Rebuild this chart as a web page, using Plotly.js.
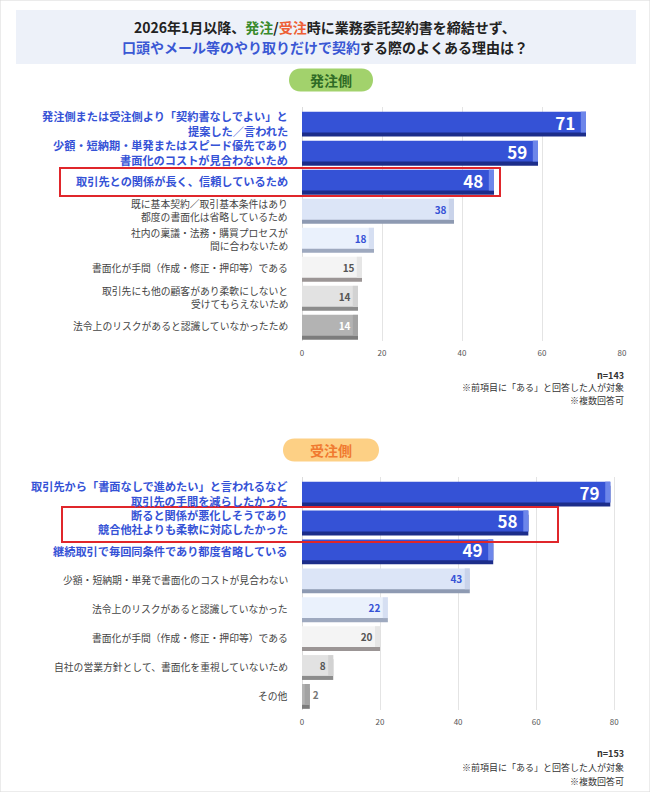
<!DOCTYPE html>
<html>
<head>
<meta charset="utf-8">
<script src="https://cdn.plot.ly/plotly-3.0.1.min.js"></script>
<style>
  body { margin: 0; background: #fff; }
  #chart { width: 650px; height: 792px; }
</style>
</head>
<body>
<div id="chart"></div>
<script>
// 発注側
var orderLabels = [
  "発注側または受注側より「契約書なしでよい」と<br>提案した／言われた",
  "少額・短納期・単発またはスピード優先であり<br>書面化のコストが見合わないため",
  "取引先との関係が長く、信頼しているため",
  "既に基本契約／取引基本条件はあり<br>都度の書面化は省略しているため",
  "社内の稟議・法務・購買プロセスが<br>間に合わないため",
  "書面化が手間（作成・修正・押印等）である",
  "取引先にも他の顧客があり柔軟にしないと<br>受けてもらえないため",
  "法令上のリスクがあると認識していなかったため"
];
var orderValues = [71, 59, 48, 38, 18, 15, 14, 14];

// 受注側
var receiveLabels = [
  "取引先から「書面なしで進めたい」と言われるなど<br>取引先の手間を減らしたかった",
  "断ると関係が悪化しそうであり<br>競合他社よりも柔軟に対応したかった",
  "継続取引で毎回同条件であり都度省略している",
  "少額・短納期・単発で書面化のコストが見合わない",
  "法令上のリスクがあると認識していなかった",
  "書面化が手間（作成・修正・押印等）である",
  "自社の営業方針として、書面化を重視していないため",
  "その他"
];
var receiveValues = [79, 58, 49, 43, 22, 20, 8, 2];

var orderNotes = ["n=143", "※前項目に「ある」と回答した人が対象", "※複数回答可"];
var receiveNotes = ["n=153", "※前項目に「ある」と回答した人が対象", "※複数回答可"];

// styles (same ranking pattern for both charts)
var faceColors = ["#3552d6", "#3552d6", "#3552d6", "#dce5f7", "#eaf1fc", "#f4f4f4", "#e2e2e2", "#b3b3b3"];
var sideColors = ["#1c2d8a", "#1c2d8a", "#1c2d8a", "#8e9ab2", "#9ea9bf", "#9b9595", "#8c8c8c", "#7c7c7c"];
var capColors = ["#6d86ea", "#6d86ea", "#6d86ea", "#c9d3ea", "#d6dff2", "#e6e6e6", "#d2d2d2", "#a3a3a3"];
var textColors = ["#ffffff", "#ffffff", "#ffffff", "#3552d6", "#3552d6", "#555555", "#555555", "#ffffff"];
var textSizes = [17, 17, 17, 10, 10, 10, 10, 10];
var FONT = "Noto Sans CJK JP, Noto Sans, sans-serif";
var W = 650, H = 792;
var CAP = 1.3;

function px(x) { return x / W; }
function py(y) { return 1 - y / H; }

function barTraces(labels, values, xa, ya) {
  var common = { type: "bar", orientation: "h", y: labels, xaxis: xa, yaxis: ya,
                 width: 0.72, hoverinfo: "skip", showlegend: false };
  var side = Object.assign({}, common, {
    x: values, offset: -0.26, marker: { color: sideColors }
  });
  var face = Object.assign({}, common, {
    x: values, offset: -0.4, marker: { color: faceColors }
  });
  var cap = Object.assign({}, common, {
    x: values.map(function () { return CAP; }),
    base: values.map(function (v) { return v - CAP; }),
    offset: -0.4, marker: { color: capColors }
  });
  var labelsOnTop = Object.assign({}, common, {
    x: values, offset: -0.4,
    marker: { color: "rgba(0,0,0,0)" },
    text: values.map(function (v) { return v + "\u00a0\u00a0"; }),
    textposition: "auto",
    insidetextanchor: "end",
    textangle: 0,
    constraintext: "none",
    insidetextfont: { family: FONT, color: textColors, size: textSizes, weight: 700 },
    outsidetextfont: { family: FONT, color: "#777", size: 10, weight: 700 }
  });
  return [side, face, cap, labelsOnTop];
}

var data = barTraces(orderLabels, orderValues, "x", "y")
  .concat(barTraces(receiveLabels, receiveValues, "x2", "y2"));

function xAxis(domain, range, anchor) {
  return {
    domain: domain, range: range, anchor: anchor,
    dtick: 20, showgrid: true, gridcolor: "#e4e4e4", gridwidth: 1,
    zeroline: true, zerolinecolor: "#dcdcdc",
    showline: false, ticks: "", ticklabelstandoff: 6,
    tickfont: { family: FONT, size: 8, color: "#555" },
    fixedrange: true
  };
}

function yAxis(domain, labels, anchor) {
  return {
    domain: domain, anchor: anchor, type: "category",
    autorange: "reversed", categoryorder: "array", categoryarray: labels,
    showticklabels: false, showgrid: false, zeroline: false, ticks: "",
    fixedrange: true
  };
}

// one annotation per label line, so each line sits on its own
function labelNotes(labels, ya) {
  var out = [];
  labels.forEach(function (lab, i) {
    var top = i < 3;
    var lines = lab.split("<br>");
    var step = top ? 14.5 : 13;
    lines.forEach(function (line, j) {
      out.push({
        xref: "paper", yref: ya, x: px(289), y: lab,
        xanchor: "right", yanchor: "middle", showarrow: false, borderpad: 0,
        yshift: ((lines.length - 1) / 2 - j) * step,
        text: top ? "<b>" + line + "</b>" : line,
        font: { family: FONT, size: top ? 11.2 : 9.8, color: top ? "#3552d6" : "#444" }
      });
    });
  });
  return out;
}

function pill(cx, cy, w, h, color) {
  var r = h / 2, k = r * 1.333;
  var a = -w / 2 + r, b = w / 2 - r;
  var path = "M" + a + "," + (-r) + " L" + b + "," + (-r) +
    " C" + (b + k) + "," + (-r) + " " + (b + k) + "," + r + " " + b + "," + r +
    " L" + a + "," + r +
    " C" + (a - k) + "," + r + " " + (a - k) + "," + (-r) + " " + a + "," + (-r) + " Z";
  return {
    type: "path", xref: "paper", yref: "paper",
    xsizemode: "pixel", ysizemode: "pixel",
    xanchor: px(cx), yanchor: py(cy),
    path: path, fillcolor: color, line: { width: 0 }, layer: "below"
  };
}

function notes(lines, yStart, step) {
  return lines.map(function (t, i) {
    return {
      xref: "paper", yref: "paper", x: px(625), y: py(yStart + i * step),
      xanchor: "right", yanchor: "middle", showarrow: false, borderpad: 0,
      text: i === 0 ? "<b>" + t + "</b>" : t,
      font: { family: FONT, size: 9, color: "#333" }
    };
  });
}

var layout = {
  width: W, height: H,
  margin: { l: 0, r: 0, t: 0, b: 0 },
  paper_bgcolor: "#ffffff", plot_bgcolor: "rgba(0,0,0,0)",
  barmode: "overlay",
  font: { family: FONT },
  xaxis: xAxis([px(302), px(622)], [0, 80], "y"),
  yaxis: yAxis([py(341), py(107)], orderLabels, "x"),
  xaxis2: xAxis([px(302), px(622)], [0, 82], "y2"),
  yaxis2: yAxis([py(710), py(477)], receiveLabels, "x2"),
  shapes: [
    { type: "rect", xref: "paper", yref: "paper", x0: 0, x1: 1, y0: 0, y1: 1,
      line: { color: "#d8d8d8", width: 1 }, fillcolor: "rgba(0,0,0,0)" },
    { type: "rect", xref: "paper", yref: "paper", x0: px(16), x1: px(636), y0: py(64), y1: py(10),
      line: { width: 0 }, fillcolor: "#edf1f9", layer: "below" },
    pill(331, 80, 84, 23, "#a2d26c"),
    pill(331, 450, 96, 23, "#fdd085"),
    { type: "rect", xref: "paper", yref: "paper", x0: px(60), x1: px(500), y0: py(196), y1: py(168),
      line: { color: "#e0262b", width: 2 } },
    { type: "rect", xref: "paper", yref: "paper", x0: px(62), x1: px(558), y0: py(542), y1: py(507),
      line: { color: "#e0262b", width: 2 } }
  ],
  annotations: [
    { xref: "paper", yref: "paper", x: 0.5, y: py(27), showarrow: false, yanchor: "middle",
      text: '<b>2026年1月以降、<span style="color:#3a8a2c">発注</span>/<span style="color:#ee5f35">受注</span>時に業務委託契約書を締結せず、</b>',
      font: { family: FONT, size: 14, color: "#222" } },
    { xref: "paper", yref: "paper", x: 0.5, y: py(47), showarrow: false, yanchor: "middle",
      text: '<b><span style="color:#3a58d4">口頭やメール等のやり取りだけで契約</span>する際のよくある理由は？</b>',
      font: { family: FONT, size: 14, color: "#222" } },
    { xref: "paper", yref: "paper", x: px(331), y: py(80), showarrow: false, yanchor: "middle",
      text: "<b>発注側</b>", font: { family: FONT, size: 14, color: "#2f6a25" } },
    { xref: "paper", yref: "paper", x: px(331), y: py(450), showarrow: false, yanchor: "middle",
      text: "<b>受注側</b>", font: { family: FONT, size: 14, color: "#f07a30" } }
  ].concat(labelNotes(orderLabels, "y"))
   .concat(labelNotes(receiveLabels, "y2"))
   .concat(notes(orderNotes, 376, 12))
   .concat(notes(receiveNotes, 753, 14))
};

Plotly.newPlot("chart", data, layout, { displayModeBar: false, staticPlot: true });
</script>
</body>
</html>
